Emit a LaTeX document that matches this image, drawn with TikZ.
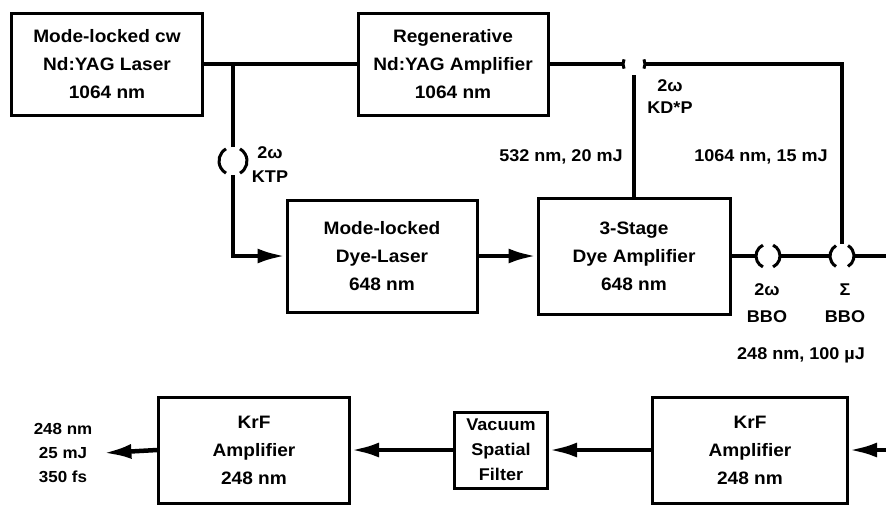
\documentclass[tikz,border=0pt]{standalone}
\usepackage{fontspec}
\setmainfont[FakeStretch=1.06]{Liberation Sans}
\usetikzlibrary{arrows.meta}

% arcs of a crystal: node, radius, half angle
\newcommand\xtalarcs[3]{%
  \pgfmathsetmacro\xtalA{180-#3}%
  \pgfmathsetmacro\xtalB{180+#3}%
  \draw[xtal] ([shift={(\xtalA:#2)}]#1.center) arc[start angle=\xtalA,end angle=\xtalB,radius=#2];
  \draw[xtal] ([shift={(-#3:#2)}]#1.center) arc[start angle=-#3,end angle=#3,radius=#2];}

\begin{document}
\begin{tikzpicture}[x=1pt,y=-1pt,
  every node/.style={font=\fontsize{18}{28}\selectfont\bfseries},
  box/.style={draw,line width=3pt,align=center,inner sep=0pt},
  beam/.style={line width=4.5pt},
  ray/.style={beam,-{Latex[length=28pt,width=15pt]}},
  xtal/.style={line width=3pt},
  xnode/.style={circle,inner sep=0pt,outer sep=0pt,minimum size=#1},
  lab/.style={align=center,font=\fontsize{17}{24}\selectfont\bfseries}]
  \useasboundingbox (0,0) rectangle (886,504);

  % boxes
  \node[box,minimum width=191pt,minimum height=102pt] (cw) at (107,64) {Mode-locked cw\\Nd:YAG Laser\\1064 nm};
  \node[box,minimum width=190pt,minimum height=102pt] (regen) at (453,64) {Regenerative\\Nd:YAG Amplifier\\1064 nm};
  \node[box,minimum width=190pt,minimum height=112pt] (dye) at (382,256) {Mode-locked\\Dye-Laser\\648 nm};
  \node[box,minimum width=192pt,minimum height=116pt] (amp) at (634,256) {3-Stage\\Dye Amplifier\\648 nm};
  \node[box,minimum width=195pt,minimum height=106pt] (krfb) at (750,450) {KrF\\Amplifier\\248 nm};
  \node[box,minimum width=93pt,minimum height=76pt,font=\fontsize{17}{25}\selectfont\bfseries] (vsf) at (501,450) {Vacuum\\Spatial\\Filter};
  \node[box,minimum width=191pt,minimum height=106pt] (krfa) at (254,450) {KrF\\Amplifier\\248 nm};
  \node[lab,font=\fontsize{16}{24}\selectfont\bfseries,inner xsep=11pt] (out) at (63,453) {248 nm\\25 mJ\\350 fs};

  % crystals
  \node[xnode=22pt] (kdp) at (634,64) {};
  \node[xnode=28pt] (ktp) at (233,161) {};
  \node[xnode=24pt] (bbo) at (768,256) {};
  \node[xnode=24pt] (sfg) at (842,256) {};
  \xtalarcs{kdp}{11pt}{25}
  \xtalarcs{ktp}{14pt}{60}
  \xtalarcs{bbo}{12pt}{65}
  \xtalarcs{sfg}{12pt}{60}
  \coordinate (exita) at (886,256);
  \coordinate (entryb) at (886,450);

  % beams
  \draw[beam] (cw.east) -- (regen.west);
  \draw[beam] (regen.east) -- (kdp.west);
  \draw[beam] (kdp.east) -| (sfg.north);
  \draw[beam] (kdp.south) -- (amp.north);
  \draw[beam] (ktp.north) -- (ktp.north |- cw.east);
  \draw[ray] (ktp.south) |- (dye.west);
  \draw[ray] (dye.east) -- (amp.west);
  \draw[beam] (amp.east) -- (bbo.west);
  \draw[beam] (bbo.east) -- (sfg.west);
  \draw[beam] (sfg.east) -- (exita);
  \draw[ray] (entryb) -- (krfb.east);
  \draw[ray] (krfb.west) -- (vsf.east);
  \draw[ray] (vsf.west) -- (krfa.east);
  \draw[ray] (krfa.west) -- (out.east);

  % labels
  \node[lab,font=\fontsize{17}{22}\selectfont\bfseries] (kdplab) at (670,97) {2ω\\KD*P};
  \node[lab] (ktplab) at (270,165) {2ω\\KTP};
  \node[lab,font=\fontsize{17}{27}\selectfont\bfseries] (bbolab) at (767,303) {2ω\\BBO};
  \node[lab,font=\fontsize{17}{27}\selectfont\bfseries] (sfglab) at (845,303) {Σ\\BBO};
  \node[lab] (greenlab) at (561,157) {532 nm, 20 mJ};
  \node[lab] (irlab) at (761,157) {1064 nm, 15 mJ};
  \node[lab] (uvlab) at (801,355) {248 nm, 100 µJ};
\end{tikzpicture}
\end{document}
